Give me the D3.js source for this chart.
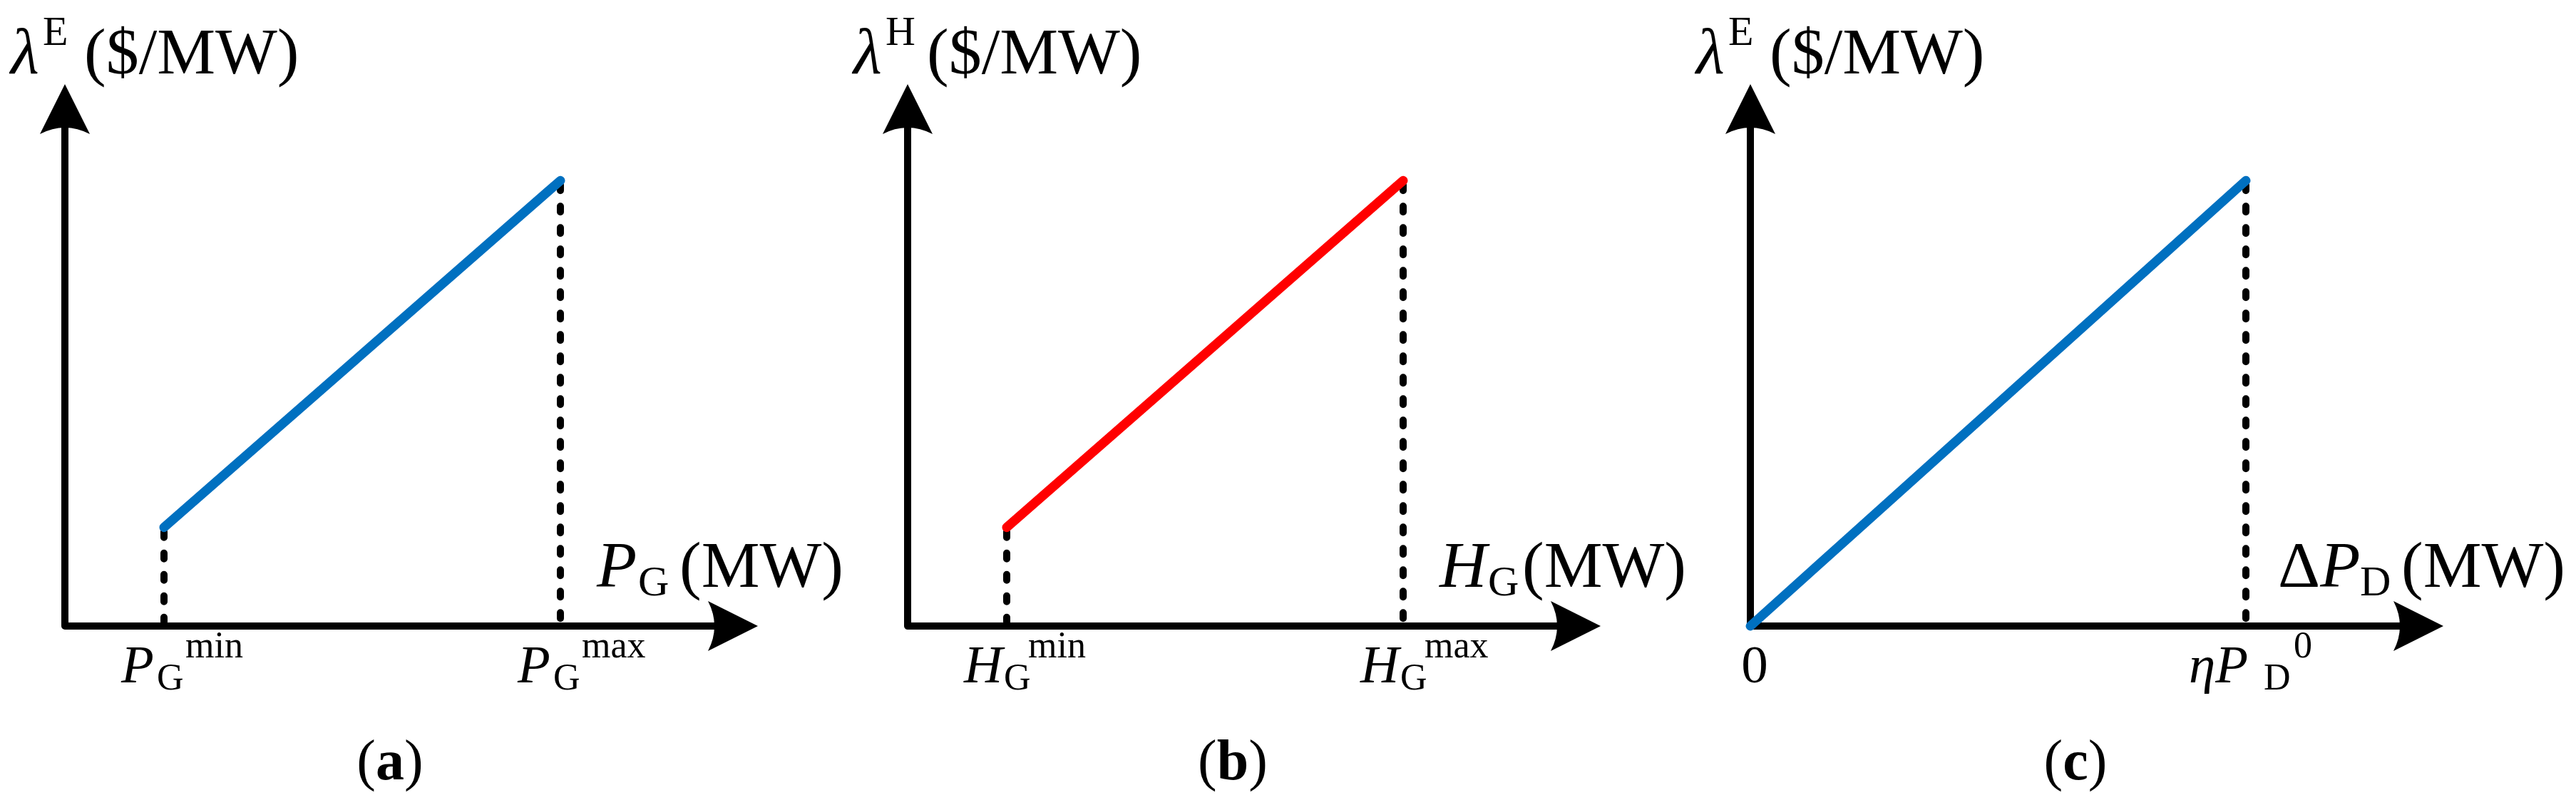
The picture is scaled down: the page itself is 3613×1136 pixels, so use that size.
<!DOCTYPE html>
<html><head><meta charset="utf-8">
<script src="https://cdn.jsdelivr.net/npm/d3@7"></script>
<style>body{margin:0;background:#fff}svg{display:block}</style>
</head><body>
<script>
// Panel data (arbitrary units, axes domain 0..10)
const panels = ["a", "b", "c"];
const lineStartX = [1.43, 1.43, 0];
const lineStartY = [1.82, 1.82, 0];
const lineEndX = [7.15, 7.15, 7.15];
const lineEndY = [8.22, 8.22, 8.22];
const lineColors = ["#0070C0", "#FF0000", "#0070C0"];
const yTitleSym = ["E", "H", "E"];
const xVarMain = ["P", "H", "ΔP"];
const xVarSub = ["G", "G", "D"];
const tickMinLabels = [["P", "G", "min"], ["H", "G", "min"], null];
const tickMaxLabels = [["P", "G", "max"], ["H", "G", "max"], ["ηP", "D", "0"]];

const W = 3613, H = 1136, step = 1182;
const svg = d3.select("body").append("svg").attr("width", W).attr("height", H)
  .attr("font-family", "'Liberation Serif', 'Times New Roman', 'DejaVu Serif', serif").attr("fill", "#000");

panels.forEach((p, i) => {
  const off = i * step;
  const x = d3.scaleLinear().domain([0, 10]).range([91 + off, 1063 + off]);
  const y = d3.scaleLinear().domain([0, 10]).range([878, 118]);
  const g = svg.append("g");
  const x0 = x(0), y0 = y(0);
  const tipX = x(10), tipY = y(10);
  // axes
  g.append("path").attr("d", `M${x0},${tipY + 60}L${x0},${y0}L${tipX - 60},${y0}`)
    .attr("fill", "none").attr("stroke", "#000").attr("stroke-width", 10).attr("stroke-linejoin", "round");
  g.append("path").attr("d", `M${tipX},${y0}L${tipX - 70},${y0 - 35}Q${tipX - 52},${y0} ${tipX - 70},${y0 + 35}Z`).attr("fill", "#000");
  g.append("path").attr("d", `M${x0},${tipY}L${x0 - 35},${tipY + 70}Q${x0},${tipY + 52} ${x0 + 35},${tipY + 70}Z`).attr("fill", "#000");
  // dashed guides
  const guides = [];
  if (lineStartX[i] > 0) guides.push([lineStartX[i], lineStartY[i]]);
  guides.push([lineEndX[i], lineEndY[i]]);
  guides.forEach(([gx, gy]) => {
    g.append("line").attr("x1", x(gx)).attr("x2", x(gx)).attr("y1", y(gy) + 6).attr("y2", y0 - 6)
      .attr("stroke", "#000").attr("stroke-width", 10).attr("stroke-linecap", "round").attr("stroke-dasharray", "8 22");
  });
  // main line
  g.append("line").attr("x1", x(lineStartX[i])).attr("y1", y(lineStartY[i]))
    .attr("x2", x(lineEndX[i])).attr("y2", y(lineEndY[i]))
    .attr("stroke", lineColors[i]).attr("stroke-width", 13).attr("stroke-linecap", "round");
  // y title
  g.append("text").attr("x", 15 + off).attr("y", 103).attr("font-size", 92).attr("font-style", "italic").text("λ");
  g.append("text").attr("x", 60 + off).attr("y", 63).attr("font-size", 58).text(yTitleSym[i]);
  g.append("text").attr("x", 118 + off).attr("y", 103).attr("font-size", 92).text("($/MW)");
  // x title
  const tx = i === 2 ? 3195 : 837 + off;
  const t = g.append("text").attr("x", tx).attr("y", 823).attr("font-size", 92);
  if (i === 2) { t.append("tspan").text("Δ"); t.append("tspan").attr("font-style", "italic").text("P"); }
  else t.attr("font-style", "italic").text(xVarMain[i]);
  const subX = i === 2 ? 3310 : (i === 1 ? 905 : 895) + off;
  g.append("text").attr("x", subX).attr("y", 835).attr("font-size", 60).text(xVarSub[i]);
  g.append("text").attr("x", i === 2 ? 3368 : 953 + off).attr("y", 823).attr("font-size", 92).text("(MW)");
  // tick labels
  function tickLabel(lab, cx) {
    const [m, s, sup] = lab;
    const isEta = m === "ηP";
    const mx = isEta ? cx - 80 : cx - 60;
    g.append("text").attr("x", mx).attr("y", 957).attr("font-size", 75).attr("font-style", "italic").text(m);
    const sx = isEta ? cx + 25 : (m === "H" ? cx - 4 : cx - 10);
    g.append("text").attr("x", sx).attr("y", 967).attr("font-size", 52).text(s);
    g.append("text").attr("x", isEta ? cx + 67 : cx + 30).attr("y", 922).attr("font-size", 52).text(sup);
  }
  if (tickMinLabels[i]) tickLabel(tickMinLabels[i], x(lineStartX[i]));
  else g.append("text").attr("x", x0 + 6).attr("y", 957).attr("font-size", 75).attr("text-anchor", "middle").text("0");
  tickLabel(tickMaxLabels[i], x(lineEndX[i]));
  // panel caption
  const c = g.append("text").attr("x", 547 + off).attr("y", 1093).attr("font-size", 80).attr("text-anchor", "middle");
  c.append("tspan").text("(");
  c.append("tspan").attr("font-weight", "bold").text(p);
  c.append("tspan").text(")");
});
</script>
</body></html>
